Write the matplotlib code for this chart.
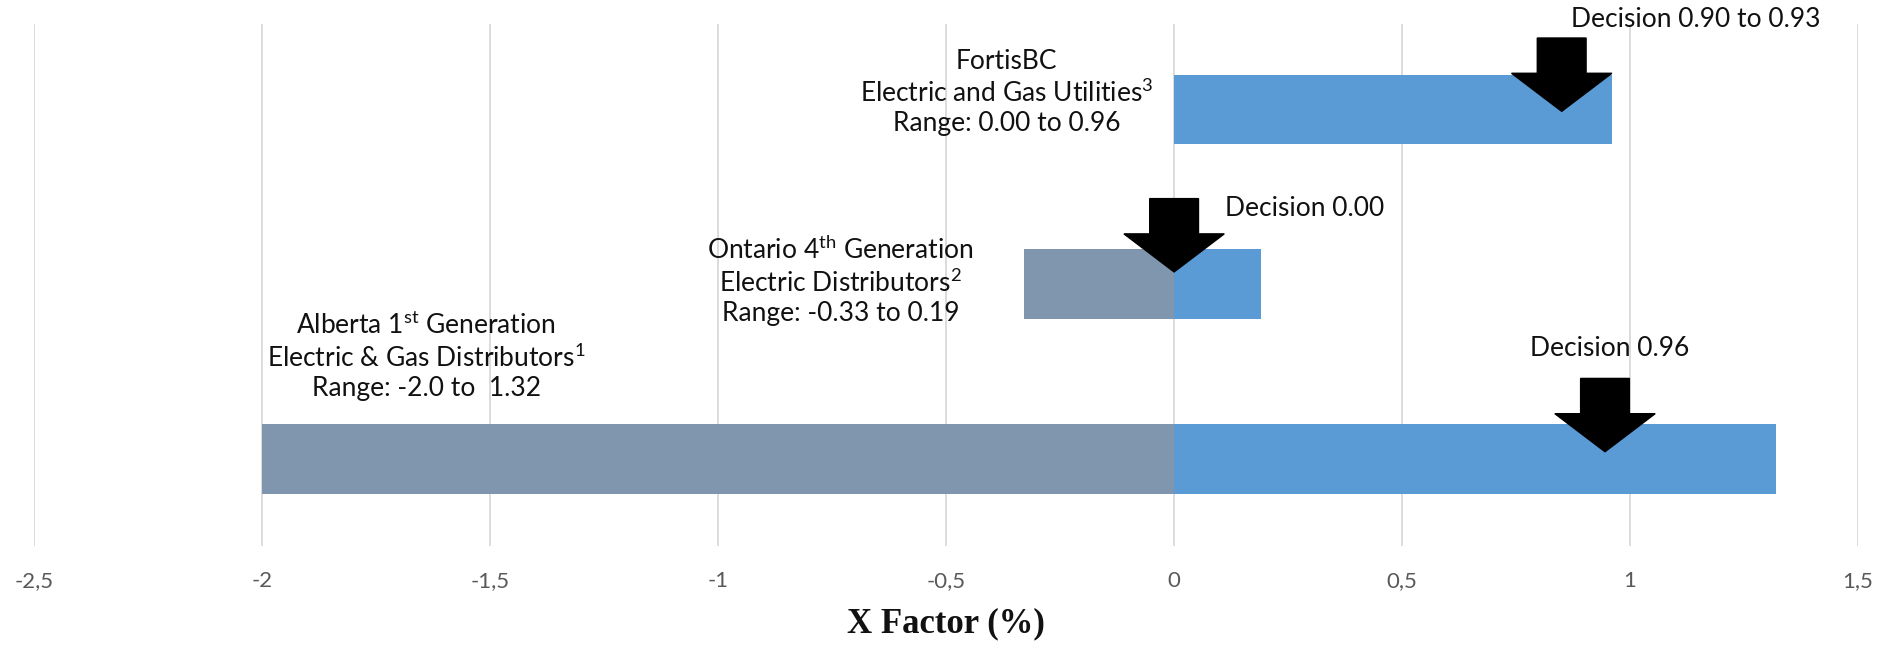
import matplotlib.pyplot as plt
from matplotlib.patches import FancyArrow
from matplotlib import font_manager

# data, bottom row first
groups = ['Alberta', 'Ontario', 'FortisBC']
range_low = [-2.0, -0.33, 0.00]
range_high = [1.32, 0.19, 0.96]
decision_x = [0.945, 0.0, 0.85]
labels = [
    'Alberta 1$^{\\mathrm{st}}$ Generation\nElectric & Gas Distributors$^{\\mathrm{1}}$\nRange: -2.0 to  1.32',
    'Ontario 4$^{\\mathrm{th}}$ Generation\nElectric Distributors$^{\\mathrm{2}}$\nRange: -0.33 to 0.19',
    'FortisBC\nElectric and Gas Utilities$^{\\mathrm{3}}$\nRange: 0.00 to 0.96',
]
decision_text = ['Decision 0.96', 'Decision 0.00', 'Decision 0.90 to 0.93']
xticks = [-2.5, -2, -1.5, -1, -0.5, 0, 0.5, 1, 1.5]
xtick_labels = ['-2,5', '-2', '-1,5', '-1', '-0,5', '0', '0,5', '1', '1,5']

fam = 'Lato'
names = [f.name for f in font_manager.fontManager.ttflist]
if fam not in names:
    fam = 'DejaVu Sans'
plt.rcParams['font.family'] = fam
plt.rcParams['mathtext.fontset'] = 'custom'
plt.rcParams['mathtext.rm'] = fam

grey = '#7F96AE'
blue = '#5B9BD5'
txt = '#111111'

fig = plt.figure(figsize=(18.96, 6.5), dpi=100)
ax = fig.add_axes([0.018, 0.16, 0.962, 0.803])

ypos = list(range(len(groups)))
neg = [min(v, 0) for v in range_low]
pos = [max(v, 0) for v in range_high]
ax.barh(ypos, neg, height=0.4, color=grey, zorder=2)
ax.barh(ypos, pos, height=0.4, color=blue, zorder=2)

# decision arrows
tip_y = [0.04, 1.07, 1.99]
for x, ty in zip(decision_x, tip_y):
    total = 0.42
    arr = FancyArrow(x, ty + total, 0, -total, width=0.107, head_width=0.22,
                     head_length=0.218, length_includes_head=True,
                     color='black', zorder=4)
    ax.add_patch(arr)

# text labels
label_x = [-1.64, -0.732, -0.368]
label_y = [0.59, 1.02, 2.10]
for lx, ly, t in zip(label_x, label_y, labels):
    ax.text(lx, ly, t, ha='center', va='center', fontsize=19, color=txt,
            linespacing=1.2, zorder=5)

dec_x = [0.955, 0.112, 1.145]
dec_y = [0.63, 1.433, 2.516]
dec_ha = ['center', 'left', 'center']
for dx, dy, t, h in zip(dec_x, dec_y, decision_text, dec_ha):
    ax.text(dx, dy, t, ha=h, va='center', fontsize=19, color=txt,
            clip_on=False, zorder=5)

ax.set_xlim(-2.5, 1.5)
ax.set_ylim(-0.5, 2.49)
ax.set_xticks(xticks)
ax.set_xticklabels(xtick_labels, fontsize=16, color='#595959')
ax.tick_params(axis='x', length=0, pad=18)
ax.set_yticks([])
ax.grid(axis='x', color='#D9D9D9', linewidth=1.3, zorder=0)
ax.set_axisbelow(True)
for s in ax.spines.values():
    s.set_visible(False)

ax.set_xlabel('X Factor (%)', fontsize=25, fontweight='bold',
              family='Liberation Serif', color='#111111', labelpad=12)

fig.savefig('out.png', dpi=100)
